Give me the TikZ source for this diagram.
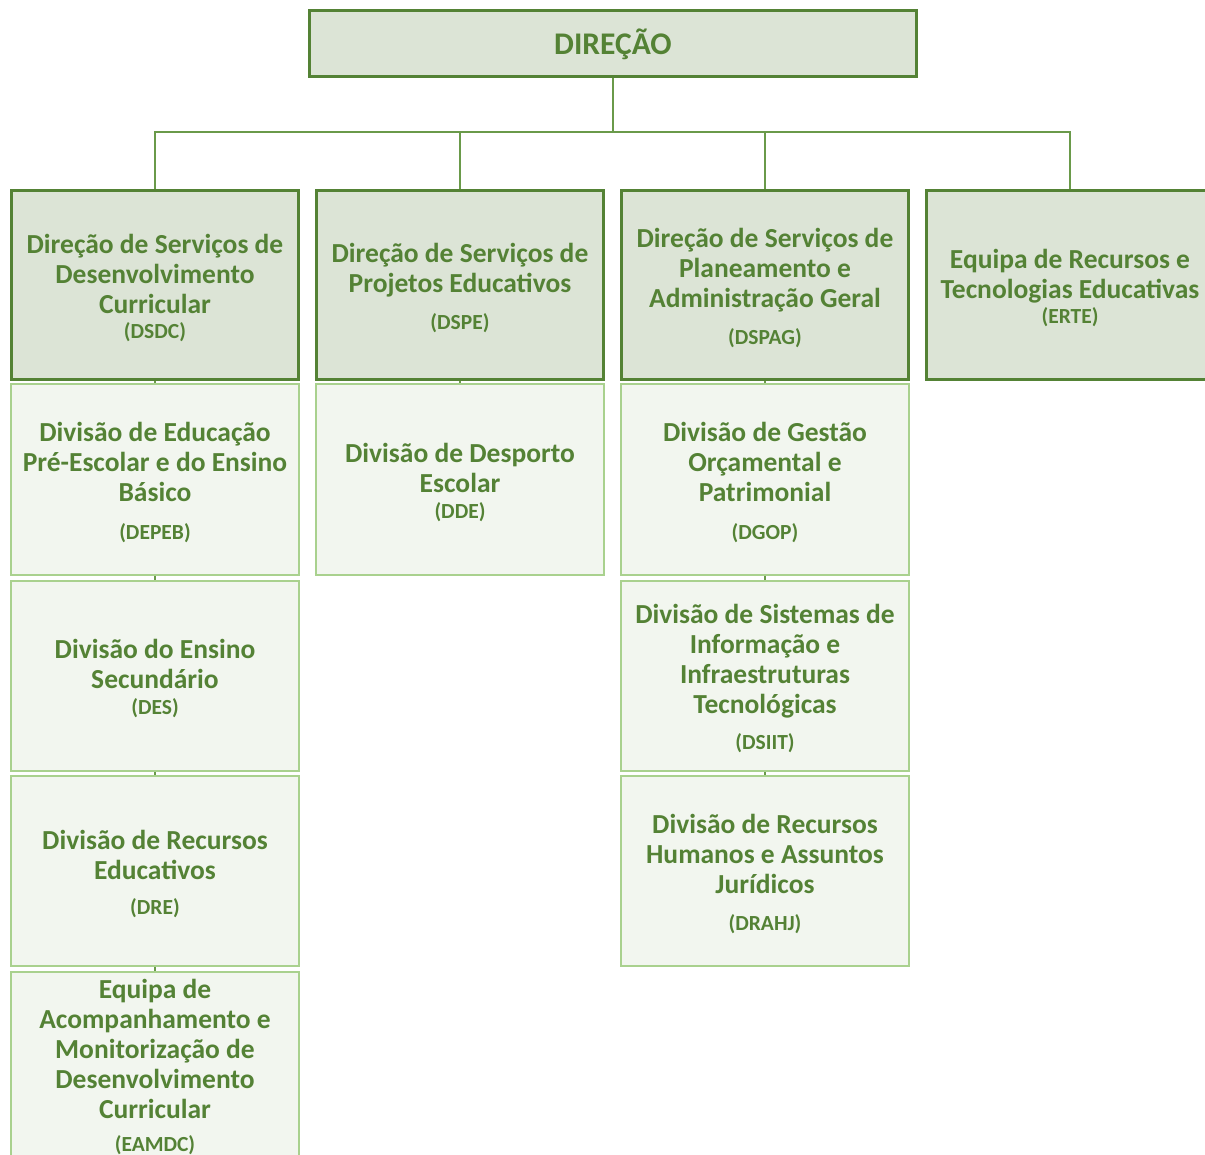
\documentclass[tikz,border=0pt]{standalone}
\usepackage{fontspec}
\setmainfont{Carlito}
\definecolor{dkgreen}{HTML}{548235}
\definecolor{ltgreen}{HTML}{A9D18E}
\definecolor{fillA}{HTML}{DCE4D6}
\definecolor{fillB}{HTML}{F2F6EF}
\definecolor{txtgreen}{HTML}{548235}
\definecolor{conngreen}{HTML}{6A9A4A}
\newcommand\abr[1]{{\fontsize{21.5}{30}\selectfont #1}}
\newcommand\fst{\rule{0pt}{25pt}}
\begin{document}
\begin{tikzpicture}[x=1pt,y=-1pt,
  top/.style={draw=dkgreen, line width=3pt, fill=fillA, minimum width=607pt, minimum height=66pt,
    inner sep=0pt, text=txtgreen, font=\bfseries\fontsize{31.5}{36}\selectfont},
  lvltwo/.style={draw=dkgreen, line width=3pt, fill=fillA, minimum width=287pt, minimum height=189pt,
    inner sep=0pt, align=center, text=txtgreen, font=\bfseries\fontsize{27.5}{30}\selectfont},
  lvlthree/.style={draw=ltgreen, line width=2pt, fill=fillB, minimum width=288pt, minimum height=190pt,
    inner sep=0pt, align=center, text=txtgreen, font=\bfseries\fontsize{27.5}{30}\selectfont},
  conn/.style={draw=conngreen, line width=1.5pt}]
\clip (0,0) rectangle (1205,1155);
\useasboundingbox (0,0) rectangle (1205,1155);
\fill[white] (0,0) rectangle (1205,1155);

\node[top] (dir) at (613,44) {DIREÇÃO};

\node[lvltwo] (dsdc) at (155,285) {\fst Direção de Serviços de\\Desenvolvimento\\Curricular\\[-4.5pt]\abr{(DSDC)}};
\node[lvltwo] (dspe) at (460,285) {\fst Direção de Serviços de\\Projetos Educativos\\[6.5pt]\abr{(DSPE)}};
\node[lvltwo] (dspag) at (765,285) {\fst Direção de Serviços de\\Planeamento e\\Administração Geral\\[6.5pt]\abr{(DSPAG)}};
\node[lvltwo] (erte) at (1070,285) {\fst Equipa de Recursos e\\Tecnologias Educativas\\[-5.5pt]\abr{(ERTE)}};

\node[lvlthree] (depeb) at (155,479.5) {\fst Divisão de Educação\\Pré-Escolar e do Ensino\\Básico\\[7.5pt]\abr{(DEPEB)}};
\node[lvlthree] (des) at (155,675.5) {\fst Divisão do Ensino\\Secundário\\[-4.5pt]\abr{(DES)}};
\node[lvlthree] (dre) at (155,871) {\fst Divisão de Recursos\\Educativos\\[4.5pt]\abr{(DRE)}};
\node[lvlthree] (eamdc) at (155,1066.5) {Equipa de\\Acompanhamento e\\Monitorização de\\Desenvolvimento\\Curricular\\[3pt]\abr{(EAMDC)}};

\node[lvlthree] (dde) at (460,479.5) {\fst Divisão de Desporto\\Escolar\\[-4.5pt]\abr{(DDE)}};

\node[lvlthree] (dgop) at (765,479.5) {\fst Divisão de Gestão\\Orçamental e\\Patrimonial\\[7.5pt]\abr{(DGOP)}};
\node[lvlthree] (dsiit) at (765,675.5) {\fst Divisão de Sistemas de\\Informação e\\Infraestruturas\\Tecnológicas\\[5.5pt]\abr{(DSIIT)}};
\node[lvlthree] (drahj) at (765,871) {\fst Divisão de Recursos\\Humanos e Assuntos\\Jurídicos\\[7.5pt]\abr{(DRAHJ)}};

\coordinate (bus) at (613,132);
\draw[conn] (dir.south) -- (bus);
\draw[conn] (dsdc.north) |- (bus) -| (erte.north);
\draw[conn] (dspe.north) -- (dspe.north |- bus);
\draw[conn] (dspag.north) -- (dspag.north |- bus);

\draw[conn] (dsdc.south) -- (depeb.north);
\draw[conn] (depeb.south) -- (des.north);
\draw[conn] (des.south) -- (dre.north);
\draw[conn] (dre.south) -- (eamdc.north);
\draw[conn] (dspe.south) -- (dde.north);
\draw[conn] (dspag.south) -- (dgop.north);
\draw[conn] (dgop.south) -- (dsiit.north);
\draw[conn] (dsiit.south) -- (drahj.north);
\end{tikzpicture}
\end{document}
